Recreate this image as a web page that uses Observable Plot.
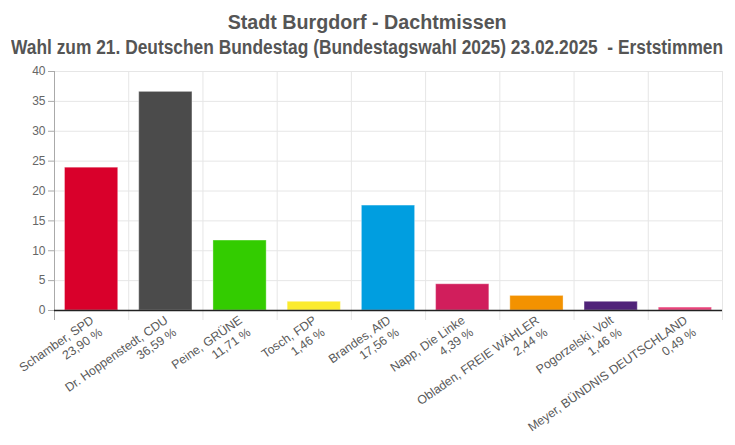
<!DOCTYPE html>
<html>
<head>
<meta charset="utf-8">
<script src="https://cdn.jsdelivr.net/npm/d3@7"></script>
<script src="https://cdn.jsdelivr.net/npm/@observablehq/plot@0.6"></script>
<style>
  body { margin: 0; background: #fff; font-family: "Liberation Sans", Arial, sans-serif; }
  #title { width: 735px; color: #555; font-weight: bold; padding-top: 10px; overflow: hidden;
           font-family: "Liberation Sans", Arial, sans-serif; }
  #title div { height: 25px; line-height: 25px; font-size: 19.5px; white-space: nowrap;
               display: flex; justify-content: center; }
  #title span { display: inline-block; flex: none; transform-origin: center center; }
</style>
</head>
<body>
<div id="title">
  <div><span id="t1">Stadt Burgdorf - Dachtmissen</span></div>
  <div><span id="t2">Wahl zum 21. Deutschen Bundestag (Bundestagswahl 2025) 23.02.2025&nbsp; - Erststimmen</span></div>
</div>
<div id="chart"></div>
<script>
const candidates = ["Schamber, SPD", "Dr. Hoppenstedt, CDU", "Peine, GRÜNE", "Tosch, FDP", "Brandes, AfD",
  "Napp, Die Linke", "Obladen, FREIE WÄHLER", "Pogorzelski, Volt", "Meyer, BÜNDNIS DEUTSCHLAND"];
const percents = [23.90, 36.59, 11.71, 1.46, 17.56, 4.39, 2.44, 1.46, 0.49];
const colors = ["#d9002b", "#4b4b4b", "#33cc00", "#fbeb2e", "#009ee0", "#d11e5c", "#f39200", "#502379", "#e9437b"];
const yTicks = [0, 5, 10, 15, 20, 25, 30, 35, 40];

const fmt = v => v.toFixed(2).replace(".", ",") + " %";
const data = candidates.map((c, i) => ({i, name: c, value: percents[i], color: colors[i],
  label: c + "\n" + fmt(percents[i])}));
const edges = d3.range(candidates.length + 1);

const chart = Plot.plot({
  width: 735,
  height: 385,
  marginLeft: 54,
  marginRight: 13,
  marginTop: 11,
  marginBottom: 135,
  style: {fontFamily: "'Liberation Sans', Arial, sans-serif", fontSize: "12px", background: "white"},
  x: {domain: [0, candidates.length], axis: null, label: null},
  y: {domain: [0, 40], axis: null, label: null},
  marks: [
    Plot.gridY(yTicks, {stroke: "#e6e6e6", strokeOpacity: 1}),
    Plot.gridX(edges.slice(1), {stroke: "#e6e6e6", strokeOpacity: 1}),
    Plot.axisX(edges.slice(1), {tickSize: 10, stroke: "#e6e6e6", strokeOpacity: 1, tickFormat: () => "", label: null}),
    Plot.axisX([0], {tickSize: 10, stroke: "#aaa", strokeOpacity: 1, tickFormat: () => "", label: null}),
    Plot.ruleX([0], {y1: 0, y2: 40, stroke: "#aaa"}),
    Plot.axisY(yTicks, {tickSize: 6, stroke: "#aaa", strokeOpacity: 1, fill: "#666", fontSize: 12, tickPadding: 3, label: null}),
    Plot.rectY(data, {x1: "i", x2: d => d.i + 1, y: "value", fill: "color",
      insetLeft: 10.5, insetRight: 10.5, stroke: "white", strokeOpacity: 0.35, strokeWidth: 1}),
    Plot.ruleY([0], {stroke: "#222", strokeWidth: 1.5}),
    Plot.text(data, {x: d => d.i + 0.5, y: 0, text: "label", rotate: -35, textAnchor: "end",
      lineAnchor: "top", dy: 3, dx: -3, fontSize: 12.3, fill: "#5a5a5a", lineHeight: 1.2})
  ]
});
document.getElementById("chart").appendChild(chart);

// condense title lines to the reference's widths
const widths = {t1: 279, t2: 712};
for (const id in widths) {
  const el = document.getElementById(id);
  el.style.transform = `scaleX(${widths[id] / el.getBoundingClientRect().width})`;
}
</script>
</body>
</html>
